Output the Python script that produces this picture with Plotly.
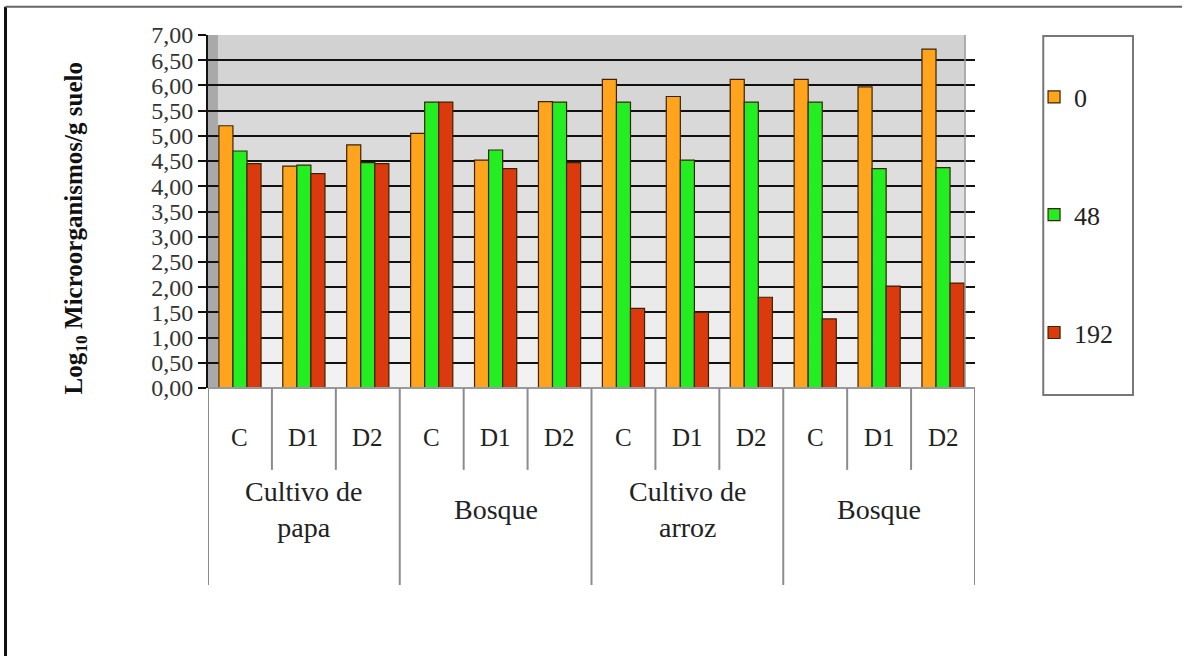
import plotly.graph_objects as go

# Sample layout: land use group, treatment within each group
groups = ["Cultivo de<br>papa", "Bosque", "Cultivo de<br>arroz", "Bosque"]
treatments = ["C", "D1", "D2"]

# Log10 microorganisms per g of soil at each sampling time (hours)
series_names = ["0", "48", "192"]
vals_0 = [5.20, 4.40, 4.82, 5.05, 4.52, 5.68, 6.12, 5.78, 6.12, 6.12, 5.97, 6.72]
vals_48 = [4.70, 4.42, 4.47, 5.67, 4.72, 5.67, 5.67, 4.52, 5.67, 5.67, 4.35, 4.37]
vals_192 = [4.45, 4.25, 4.45, 5.67, 4.35, 4.47, 1.58, 1.50, 1.80, 1.37, 2.02, 2.08]

y_ticks = [i * 0.5 for i in range(15)]

colors = ["#FFA41C", "#22EE22", "#DA3A0C"]
n_cells = len(groups) * len(treatments)
positions = list(range(n_cells))

serif = "Liberation Serif"

fig = go.Figure()
for name, vals, col in zip(series_names, [vals_0, vals_48, vals_192], colors):
    fig.add_trace(go.Bar(
        x=positions, y=vals, name=name, legendgroup=name,
        marker=dict(color=col, line=dict(color="#3a2406", width=1.2)),
    ))

shapes = []
# graded back wall
n_bands = 14
for i in range(n_bands):
    t = i / (n_bands - 1)
    g = int(0xD2 + (0xF2 - 0xD2) * t)
    shapes.append(dict(type="rect", xref="paper", yref="paper",
                       x0=0.013, x1=0.987,
                       y0=1 - (i + 1) / n_bands, y1=1 - i / n_bands,
                       fillcolor=f"rgb({g},{g},{g})", line=dict(width=0),
                       layer="below"))
# side wall
shapes.append(dict(type="rect", xref="paper", yref="paper", x0=0, x1=0.013,
                   y0=0, y1=1, fillcolor="#a9a9a9", line=dict(width=0),
                   layer="below"))
# right edge of back wall
shapes.append(dict(type="line", xref="paper", yref="paper", x0=0.987, x1=0.987,
                   y0=0, y1=1, line=dict(color="#9a9a9a", width=1.5)))
# floor edge
shapes.append(dict(type="line", xref="paper", yref="paper", x0=0, x1=1,
                   y0=0, y1=0, line=dict(color="#9a9a9a", width=2)))

# category dividers below the axis
for k in range(n_cells + 1):
    long_line = k % len(treatments) == 0
    shapes.append(dict(type="line", xref="x", yref="paper",
                       x0=k - 0.5, x1=k - 0.5,
                       y0=0, y1=-0.558 if long_line else -0.232,
                       line=dict(color="#8c8c8c", width=2)))

# legend frame
shapes.append(dict(type="rect", xref="paper", yref="paper",
                   x0=1.089, x1=1.206, y0=-0.02, y1=0.997,
                   fillcolor="white", line=dict(color="#777", width=2),
                   layer="below"))
# outer frame
shapes.append(dict(type="line", xref="paper", yref="paper",
                   x0=-0.264, x1=-0.264, y0=-0.76, y1=1.08,
                   line=dict(color="#111", width=3)))
shapes.append(dict(type="line", xref="paper", yref="paper",
                   x0=-0.264, x1=1.27, y0=1.08, y1=1.08,
                   line=dict(color="#666", width=2)))

annotations = []
for gi, gname in enumerate(groups):
    for ti, tname in enumerate(treatments):
        annotations.append(dict(x=gi * 3 + ti, y=-0.139, xref="x", yref="paper",
                                xanchor="center", yanchor="middle",
                                text=tname, showarrow=False,
                                font=dict(family=serif, size=25, color="#222")))
    annotations.append(dict(x=gi * 3 + 1, y=-0.343, xref="x", yref="paper",
                            xanchor="center", yanchor="middle",
                            text=gname, showarrow=False,
                            font=dict(family=serif, size=28, color="#222")))

annotations.append(dict(x=-0.173, y=0.453, xref="paper", yref="paper",
                        xanchor="center", yanchor="middle",
                        text="<b>Log<sub>10</sub> Microorganismos/g suelo</b>",
                        textangle=-90, showarrow=False,
                        font=dict(family=serif, size=25, color="#111")))

fig.update_layout(
    width=1186, height=656,
    margin=dict(l=208, r=211, t=35, b=268),
    paper_bgcolor="white", plot_bgcolor="rgba(0,0,0,0)",
    font=dict(family=serif),
    separators=",.",
    barmode="group", bargap=0.34, bargroupgap=0,
    shapes=shapes, annotations=annotations,
    showlegend=True,
    legend=dict(x=1.077, y=0.891, xanchor="left", yanchor="top",
                bgcolor="rgba(0,0,0,0)", borderwidth=0,
                tracegroupgap=81, traceorder="grouped",
                font=dict(family=serif, size=26, color="#222"),
                itemwidth=30),
    xaxis=dict(range=[-0.5, n_cells - 0.5], showticklabels=False,
               showgrid=False, zeroline=False, ticks=""),
    yaxis=dict(range=[0, 7], tickvals=y_ticks, tickformat=".2f",
               showgrid=True, gridcolor="#111", gridwidth=2,
               zeroline=False, showline=True, linecolor="#111", linewidth=2,
               ticks="outside", ticklen=8, tickwidth=2, tickcolor="#111",
               tickfont=dict(family=serif, size=24, color="#333")),
)

fig.write_html("out.html")
